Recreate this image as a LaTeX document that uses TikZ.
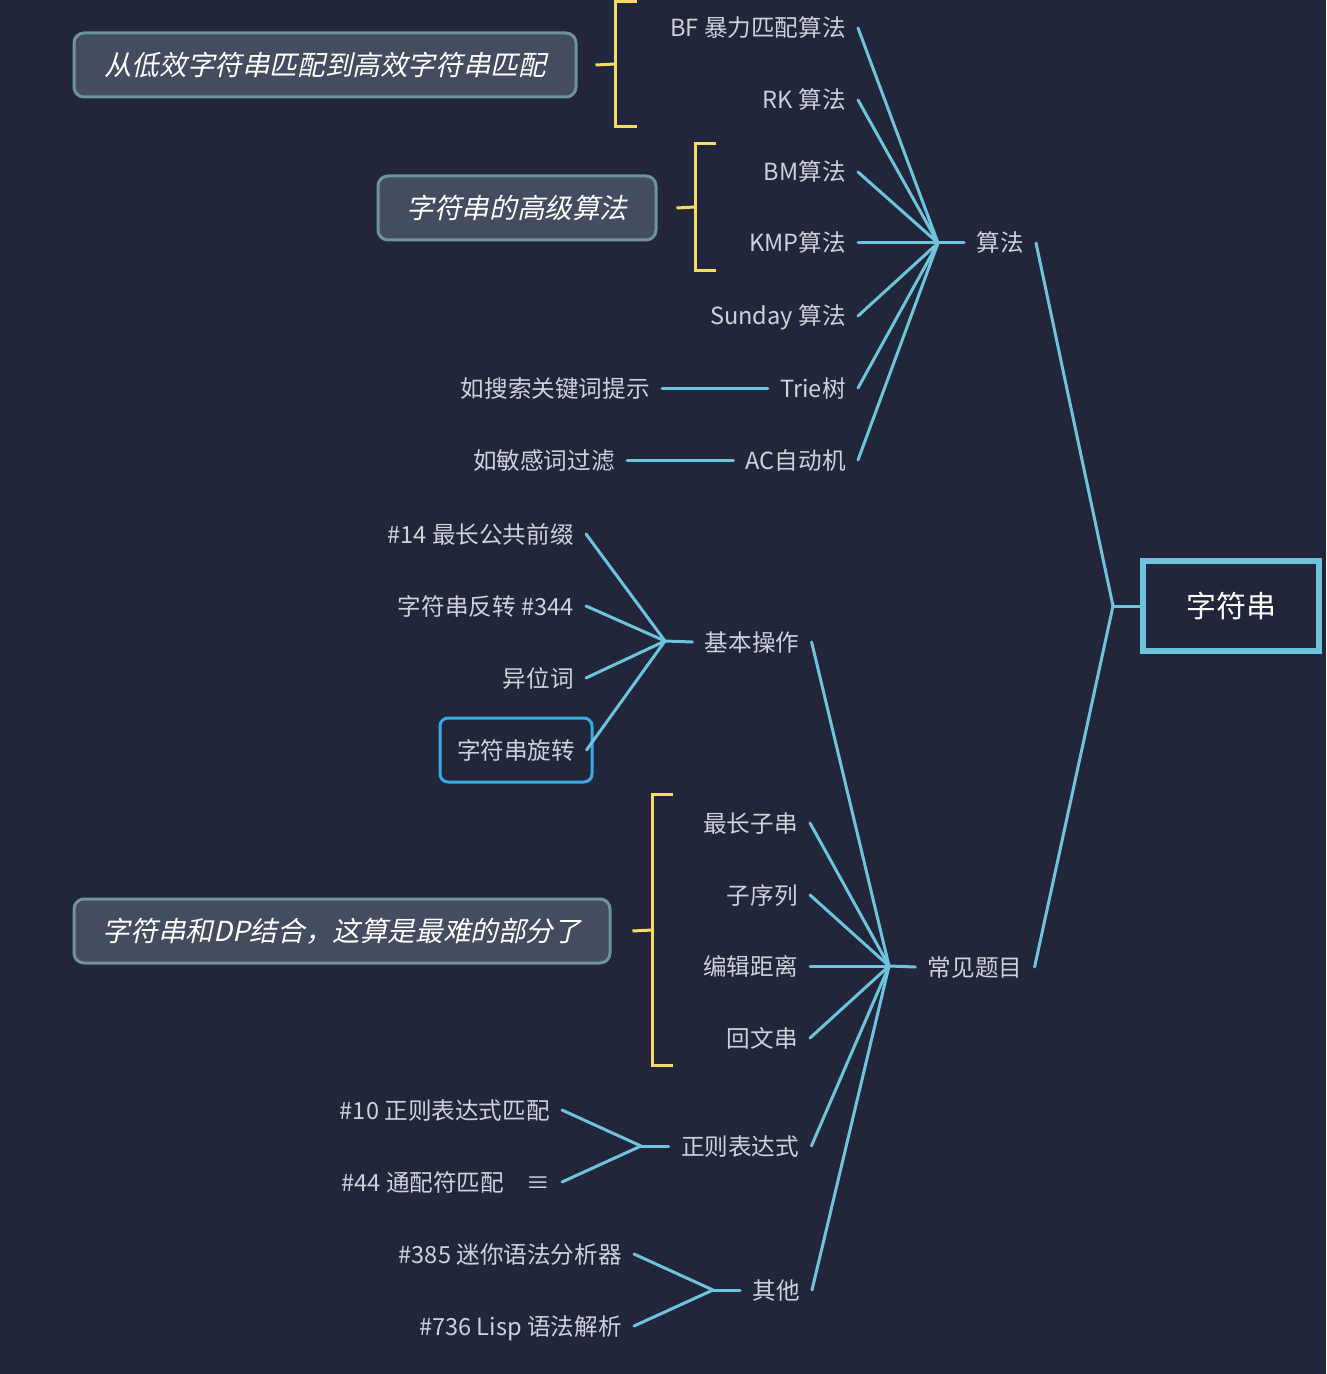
\documentclass[tikz,border=0pt]{standalone}
\usepackage{fontspec}
\usepackage{tikz}
\usetikzlibrary{positioning}
\newfontfamily\cjk{Noto Sans CJK SC}
\newfontfamily\cjkit[FakeSlant=0.22]{Noto Sans CJK SC}
\definecolor{bgcol}{HTML}{22263A}
\definecolor{linecol}{HTML}{6EC4DC}
\definecolor{textcol}{HTML}{CDD1DA}
\definecolor{bracecol}{HTML}{F6DC62}
\definecolor{notefill}{HTML}{434D5F}
\definecolor{noteedge}{HTML}{6F939B}
\definecolor{selcol}{HTML}{3AAAE6}
\tikzstyle{line} = [draw=linecol, line width=1.5pt, line cap=round]
\tikzstyle{brace} = [draw=bracecol, line width=1.5pt]
\tikzstyle{leaf} = [text=textcol, font=\cjk\fontsize{11.8}{14}\selectfont,
                text height=10pt, text depth=1pt, inner xsep=6pt, anchor=east]
\tikzstyle{topic} = [text=textcol, font=\cjk\fontsize{11.8}{14}\selectfont,
                text height=10pt, text depth=1pt, inner xsep=6pt]
\tikzstyle{root} = [rectangle, draw=linecol, line width=3pt, fill=bgcol, text=white,
                font=\cjk\fontsize{15}{18}\selectfont, minimum width=88pt, minimum height=45pt]
\tikzstyle{note} = [rectangle, rounded corners=5pt, draw=noteedge, line width=1.5pt,
                fill=notefill, text=white, font=\cjkit\fontsize{13.8}{16}\selectfont, minimum height=32pt]
\tikzstyle{picked} = [rectangle, rounded corners=4pt, draw=selcol, line width=1.5pt,
                text=textcol, font=\cjk\fontsize{11.8}{14}\selectfont, minimum width=76pt, minimum height=32pt]

\begin{document}
\begin{tikzpicture}[x=0.5pt,y=-0.5pt]
        \useasboundingbox (0,0) rectangle (1326,1374);
        \fill[bgcol] (0,0) rectangle (1326,1374);
        % root and main branches
        \node[root](root) at (1231,606){字符串};
        \coordinate (rootfork) at (1113,606);
        \node[topic](alg) at (1000,243){算法};
        \node[topic](common) at (975,967){常见题目};
        \path[line] (root.west) -- (rootfork);
        \path[line] (rootfork) -- (alg.east);
        \path[line] (rootfork) -- (common.east);
        % algorithms
        \coordinate (algfork) at (938,243);
        \node[leaf](bf) at (858,28){BF 暴力匹配算法};
        \node[leaf](rk) at (858,100){RK 算法};
        \node[leaf](bm) at (858,172){BM算法};
        \node[leaf](kmp) at (858,243){KMP算法};
        \node[leaf](sunday) at (858,316){Sunday 算法};
        \node[leaf](trie) at (858,388){Trie树};
        \node[leaf](ac) at (858,460){AC自动机};
        \node[leaf](triehint) at (662,388){如搜索关键词提示};
        \node[leaf](achint) at (627,460){如敏感词过滤};
        \path[line] (alg.west) -- (algfork);
        \path[line] (algfork) -- (bf.east);
        \path[line] (algfork) -- (rk.east);
        \path[line] (algfork) -- (bm.east);
        \path[line] (algfork) -- (kmp.east);
        \path[line] (algfork) -- (sunday.east);
        \path[line] (algfork) -- (trie.east);
        \path[line] (algfork) -- (ac.east);
        \path[line] (trie.west) -- (triehint.east);
        \path[line] (ac.west) -- (achint.east);
        % summaries
        \node[note, minimum width=251pt](note1) at (325,65){从低效字符串匹配到高效字符串匹配};
        \coordinate (b1) at (615,64);
        \draw[brace] (637,2) -- (615,2) -- (615,127) -- (637,127);
        \path[brace] ([xshift=9pt]note1.east) -- (b1);
        \node[note, minimum width=139pt](note2) at (517,208){字符串的高级算法};
        \coordinate (b2) at (695,207);
        \draw[brace] (716,144) -- (695,144) -- (695,271) -- (716,271);
        \path[brace] ([xshift=9.5pt]note2.east) -- (b2);
        % common problems
        \coordinate (commonfork) at (889,966);
        \node[topic](basic) at (752,642){基本操作};
        \node[leaf](longest) at (810,823){最长子串};
        \node[leaf](subseq) at (810,895){子序列};
        \node[leaf](edit) at (810,966){编辑距离};
        \node[leaf](palin) at (810,1038){回文串};
        \node[topic](regex) at (740,1146){正则表达式};
        \node[topic](other) at (776,1290){其他};
        \path[line] (common.west) -- (commonfork);
        \path[line] (commonfork) -- (basic.east);
        \path[line] (commonfork) -- (longest.east);
        \path[line] (commonfork) -- (subseq.east);
        \path[line] (commonfork) -- (edit.east);
        \path[line] (commonfork) -- (palin.east);
        \path[line] (commonfork) -- (regex.east);
        \path[line] (commonfork) -- (other.east);
        % basic operations
        \coordinate (basicfork) at (665,641);
        \node[leaf](prefix) at (586,534){\#14 最长公共前缀};
        \node[leaf](reverse) at (586,606){字符串反转 \#344};
        \node[leaf](anagram) at (586,678){异位词};
        \node[picked](rotate) at (516,750){字符串旋转};
        \path[line] (basic.west) -- (basicfork);
        \path[line] (basicfork) -- (prefix.east);
        \path[line] (basicfork) -- (reverse.east);
        \path[line] (basicfork) -- (anagram.east);
        \path[line] (basicfork) -- ([xshift=-3.5pt]rotate.east);
        % dp summary
        \node[note, minimum width=268pt](note3) at (342,931){字符串和DP结合，这算是最难的部分了};
        \coordinate (b3) at (652,930);
        \draw[brace] (673,794) -- (652,794) -- (652,1065) -- (673,1065);
        \path[brace] ([xshift=10.5pt]note3.east) -- (b3);
        % regex
        \coordinate (regexfork) at (641,1146);
        \node[leaf](re10) at (562,1110){\#10 正则表达式匹配};
        \node[leaf](re44) at (562,1182){\#44 通配符匹配\hspace{11pt}≡};
        \path[line] (regex.west) -- (regexfork);
        \path[line] (regexfork) -- (re10.east);
        \path[line] (regexfork) -- (re44.east);
        % others
        \coordinate (otherfork) at (713,1290);
        \node[leaf](mini) at (634,1254){\#385 迷你语法分析器};
        \node[leaf](lisp) at (634,1326){\#736 Lisp 语法解析};
        \path[line] (other.west) -- (otherfork);
        \path[line] (otherfork) -- (mini.east);
        \path[line] (otherfork) -- (lisp.east);
    \end{tikzpicture}
\end{document}
